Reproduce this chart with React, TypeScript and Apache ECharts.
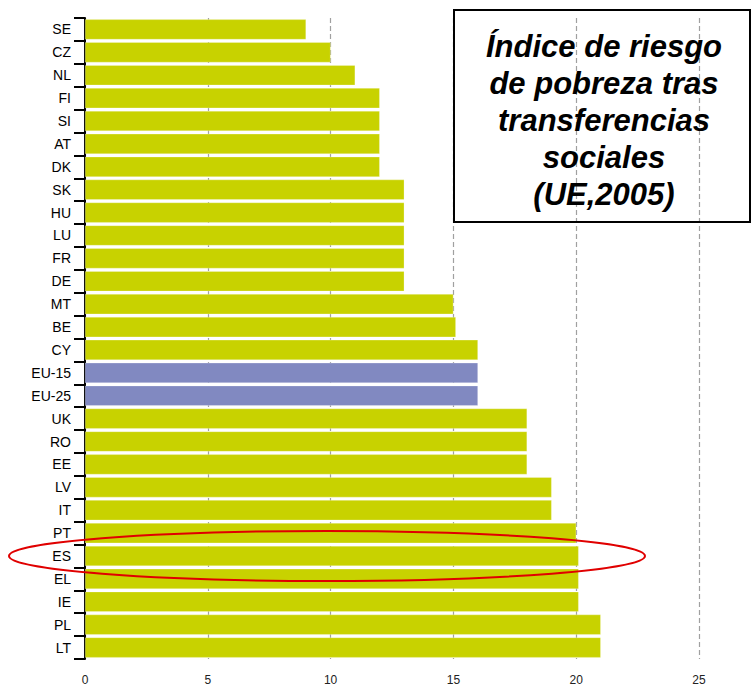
import React, { useEffect, useRef } from "react";
import * as echarts from "echarts";

const categories = [
  "SE", "CZ", "NL", "FI", "SI", "AT", "DK", "SK", "HU", "LU", "FR", "DE", "MT", "BE",
  "CY", "EU-15", "EU-25", "UK", "RO", "EE", "LV", "IT", "PT", "ES", "EL", "IE", "PL", "LT",
];
const values = [
  9, 10, 11, 12, 12, 12, 12, 13, 13, 13, 13, 13, 15, 15.1,
  16, 16, 16, 18, 18, 18, 19, 19, 20, 20.1, 20.1, 20.1, 21, 21,
];
const highlighted = ["EU-15", "EU-25"];
const xTicks = [0, 5, 10, 15, 20, 25];
const titleLines = ["Índice de riesgo", "de pobreza tras", "transferencias", "sociales", "(UE,2005)"];

const GREEN = "#c8d200";
const BLUE = "#8189c1";

export default function App() {
  const ref = useRef<HTMLDivElement>(null);
  useEffect(() => {
    if (!ref.current) return;
    const chart = echarts.init(ref.current, undefined, { renderer: "svg" });
    chart.setOption({
      animation: false,
      backgroundColor: "#ffffff",
      grid: { left: 85, right: 53, top: 18, bottom: 26, containLabel: false },
      xAxis: {
        type: "value",
        min: xTicks[0],
        max: xTicks[xTicks.length - 1],
        interval: 5,
        axisLine: { show: false },
        axisTick: { show: false },
        axisLabel: {
          margin: 15,
          fontSize: 12,
          color: "#222",
          fontFamily: "Liberation Sans, Arial, sans-serif",
        },
        splitLine: {
          show: true,
          lineStyle: { color: "#a0a0a0", type: [5, 3], width: 1.2 },
        },
      },
      yAxis: {
        type: "category",
        data: categories,
        inverse: true,
        axisLine: { show: true, lineStyle: { color: "#000", width: 2 } },
        axisTick: { show: true, length: 11, lineStyle: { color: "#000", width: 2 } },
        axisLabel: {
          margin: 14,
          fontSize: 14,
          color: "#000",
          fontFamily: "Liberation Sans, Arial, sans-serif",
        },
        splitLine: { show: false },
      },
      series: [
        {
          type: "bar",
          data: values.map((v, i) => ({
            value: v,
            itemStyle: { color: highlighted.includes(categories[i]) ? BLUE : GREEN },
          })),
          barCategoryGap: "12%",
          itemStyle: { borderColor: "rgba(255,255,255,0.5)", borderWidth: 0.5 },
        },
      ],
      graphic: [
        {
          type: "rect",
          shape: { x: 454, y: 10, width: 296, height: 212 },
          style: { fill: "transparent", stroke: "#000", lineWidth: 2 },
          z: 10,
        },
        {
          type: "text",
          x: 604,
          y: 120,
          style: {
            text: titleLines.join("\n"),
            fontSize: 31,
            lineHeight: 37,
            fontWeight: "bold",
            fontStyle: "italic",
            fontFamily: "Liberation Sans, Arial, sans-serif",
            fill: "#000",
            align: "center",
            verticalAlign: "middle",
          },
          z: 10,
        },
        {
          type: "ellipse",
          shape: { cx: 327, cy: 556, rx: 318, ry: 25 },
          style: { fill: "transparent", stroke: "#e00000", lineWidth: 2 },
          z: 20,
        },
      ],
    });
    return () => chart.dispose();
  }, []);
  return (
    <div
      ref={ref}
      style={{ position: "absolute", left: 0, top: 0, width: 752, height: 686 }}
    />
  );
}
